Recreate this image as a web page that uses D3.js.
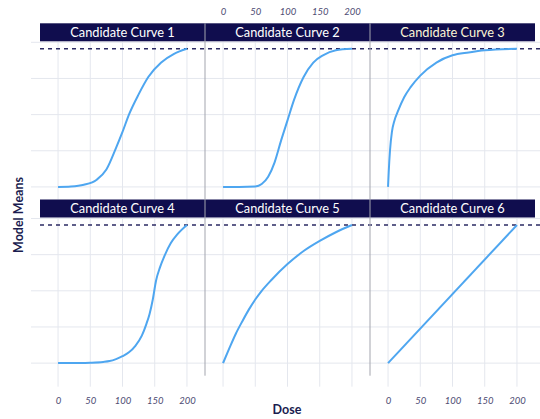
<!DOCTYPE html>
<html>
<head>
<meta charset="utf-8">
<script src="https://cdn.jsdelivr.net/npm/d3@7"></script>
<style>
  body { margin: 0; background: #fff; }
  svg { font-family: Lato, "Open Sans", sans-serif; }
</style>
</head>
<body>
<div id="myPlot"></div>
<script>
// panel titles
const curveNames = ['Candidate Curve 1', 'Candidate Curve 2', 'Candidate Curve 3',
                    'Candidate Curve 4', 'Candidate Curve 5', 'Candidate Curve 6'];

// dose / model mean pairs
const dose1 = [0, 20, 40, 60, 75, 90, 100, 110, 125, 140, 160, 180, 200];
const mean1 = [0, 0.003, 0.015, 0.05, 0.12, 0.27, 0.38, 0.5, 0.64, 0.76, 0.86, 0.92, 0.955];
const dose2 = [0, 25, 50, 60, 70, 80, 90, 100, 110, 125, 140, 155, 175, 200];
const mean2 = [0, 0, 0.003, 0.02, 0.07, 0.17, 0.32, 0.46, 0.6, 0.76, 0.86, 0.91, 0.945, 0.955];
const dose3 = [0, 1, 3, 6, 10, 15, 25, 35, 50, 75, 100, 125, 150, 200];
const mean3 = [0, 0.1, 0.25, 0.38, 0.46, 0.52, 0.62, 0.69, 0.77, 0.86, 0.91, 0.93, 0.945, 0.955];
const dose4 = [0, 25, 50, 70, 80, 90, 100, 110, 120, 130, 137, 142, 147, 152, 158, 165, 175, 185, 200];
const mean4 = [0, 0.001, 0.003, 0.008, 0.014, 0.028, 0.048, 0.075, 0.12, 0.19, 0.27, 0.34, 0.44, 0.57, 0.66, 0.74, 0.83, 0.89, 0.955];
const dose5 = [0, 10, 20, 30, 40, 50, 60, 75, 100, 125, 150, 175, 200];
const mean5 = [0, 0.105, 0.205, 0.29, 0.37, 0.44, 0.5, 0.575, 0.685, 0.775, 0.845, 0.905, 0.955];
const dose6 = [0, 200];
const mean6 = [0, 0.955];

const doseSets = [dose1, dose2, dose3, dose4, dose5, dose6];
const meanSets = [mean1, mean2, mean3, mean4, mean5, mean6];

const maxMean = 0.955;               // dashed reference line
const xTicks = [0, 50, 100, 150, 200];
const yTicks = [0, 0.25, 0.5, 0.75, 1];

const width = 540, height = 419;
const marginLeft = 40, marginTop = 23.3;
const panelW = 165, stripH = 18, panelH = 158.2;
const rowH = stripH + panelH;

const svg = d3.select('#myPlot')
  .append('svg')
    .attr('width', width)
    .attr('height', height);

const x = d3.scaleLinear().domain([-28, 228]).range([0, panelW]);
const y = d3.scaleLinear().domain([-0.087, 1.007]).range([panelH, 0]);

const gridColor = '#e4e7ee';
const line = d3.line()
  .x((d) => x(d[0]))
  .y((d) => y(d[1]))
  .curve(d3.curveMonotoneX);

for (let r = 0; r < 2; r++) {
  const py = marginTop + r * rowH + stripH;

  // horizontal grid, running across all columns
  svg.append('g')
    .selectAll('line')
    .data(yTicks)
    .enter()
    .append('line')
      .attr('x1', 31)
      .attr('x2', width)
      .attr('y1', (d) => py + y(d))
      .attr('y2', (d) => py + y(d))
      .attr('stroke', gridColor)
      .attr('stroke-width', 1);

  for (let c = 0; c < 3; c++) {
    const i = r * 3 + c;
    const px = marginLeft + c * panelW;
    const g = svg.append('g')
      .attr('transform', 'translate(' + px + ',' + py + ')');

    // vertical grid (bottom row runs on as tick marks)
    g.selectAll('line.vgrid')
      .data(xTicks)
      .enter()
      .append('line')
        .attr('class', 'vgrid')
        .attr('x1', (d) => x(d))
        .attr('x2', (d) => x(d))
        .attr('y1', 0)
        .attr('y2', r === 1 ? panelH + 11 : panelH)
        .attr('stroke', gridColor)
        .attr('stroke-width', 1);

    // strip
    const strip = svg.append('g')
      .attr('transform', 'translate(' + px + ',' + (py - stripH) + ')');
    strip.append('rect')
      .attr('width', panelW)
      .attr('height', stripH)
      .attr('fill', '#100d4e');
    strip.append('text')
      .attr('x', panelW / 2)
      .attr('y', stripH / 2 + 4.5)
      .attr('text-anchor', 'middle')
      .attr('fill', i === 2 ? '#fbf6d6' : '#ffffff')
      .style('font-size', '12.8px')
      .text(curveNames[i]);

    // bottom labels on columns 1 and 3, top labels on column 2
    if (r === 1 && c !== 1) {
      const ax = svg.append('g')
        .attr('transform', 'translate(' + px + ',' + (py + panelH + 11) + ')')
        .call(d3.axisBottom(x).tickValues(xTicks).tickSize(0).tickPadding(11));
      ax.select('.domain').remove();
      ax.selectAll('text')
        .attr('fill', '#4d4c73')
        .style('font-size', '9.5px')
        .style('font-style', 'italic')
        .style('font-family', 'Lato, sans-serif');
    }
    if (r === 0 && c === 1) {
      const ax = svg.append('g')
        .attr('transform', 'translate(' + px + ',' + marginTop + ')')
        .call(d3.axisTop(x).tickValues(xTicks).tickSize(0).tickPadding(8));
      ax.select('.domain').remove();
      ax.selectAll('text')
        .attr('fill', '#4d4c73')
        .style('font-size', '9.5px')
        .style('font-style', 'italic')
        .style('font-family', 'Lato, sans-serif');
    }
  }

  // dashed max line across the row
  svg.append('line')
    .attr('x1', marginLeft)
    .attr('x2', width)
    .attr('y1', py + y(maxMean))
    .attr('y2', py + y(maxMean))
    .attr('stroke', '#2b2a63')
    .attr('stroke-width', 1.4)
    .attr('stroke-dasharray', '4,4');

  // curves
  for (let c = 0; c < 3; c++) {
    const i = r * 3 + c;
    const pts = doseSets[i].map((d, k) => [d, meanSets[i][k]]);
    svg.append('path')
      .attr('transform', 'translate(' + (marginLeft + c * panelW) + ',' + py + ')')
      .datum(pts)
      .attr('d', line)
      .attr('fill', 'none')
      .attr('stroke', '#4ea6f0')
      .attr('stroke-width', 2);
  }
}

// column separators
[1, 2].forEach((c) => {
  svg.append('line')
    .attr('x1', marginLeft + c * panelW)
    .attr('x2', marginLeft + c * panelW)
    .attr('y1', marginTop)
    .attr('y2', marginTop + 2 * rowH)
    .attr('stroke', '#a3a5ae')
    .attr('stroke-width', 1);
});

// axis titles
svg.append('text')
  .attr('x', 287)
  .attr('y', 414)
  .attr('text-anchor', 'middle')
  .attr('fill', '#1b1d4f')
  .style('font-size', '12.5px')
  .style('font-weight', 'bold')
  .text('Dose');

svg.append('text')
  .attr('transform', 'translate(23,' + 215 + ')rotate(-90)')
  .attr('text-anchor', 'middle')
  .attr('fill', '#1b1d4f')
  .style('font-size', '12.5px')
  .style('font-weight', 'bold')
  .text('Model Means');
</script>
</body>
</html>
